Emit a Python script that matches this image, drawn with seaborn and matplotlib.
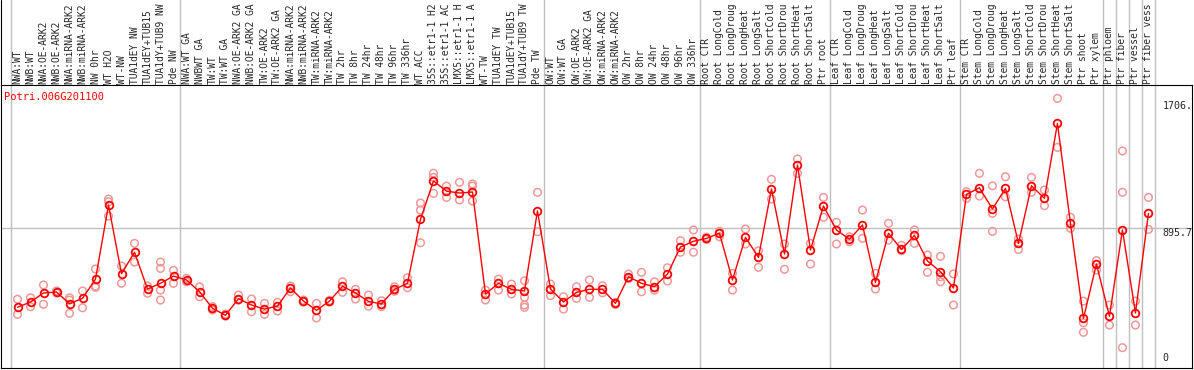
import numpy as np
import pandas as pd
import matplotlib.pyplot as plt
import seaborn as sns

gene = "Potri.006G201100"

# sample names as shown (cut to 14 characters like the original)
samples = [
    "NWA:WT", "NWB:WT", "NWA:OE-ARK2", "NWB:OE-ARK2", "NWA:miRNA-ARK2", "NWB:miRNA-ARK2",
    "NW 0hr", "WT H2O", "WT-NW", "TUA1dEY NW", "TUA1dEY+TUB15", "TUA1dY+TUB9 NW", "Pde NW",
    "NWA:WT GA", "NWBWT GA", "TW:WT", "TW:WT GA", "NWA:OE-ARK2 GA", "NWB:OE-ARK2 GA",
    "TW:OE-ARK2", "TW:OE-ARK2 GA", "NWA:miRNA-ARK2", "NWB:miRNA-ARK2", "TW:miRNA-ARK2",
    "TW:miRNA-ARK2", "TW 2hr", "TW 8hr", "TW 24hr", "TW 48hr", "TW 96hr", "TW 336hr",
    "WT ACC", "35S::etr1-1 H2", "35S::etr1-1 AC", "LMX5::etr1-1 H", "LMX5::etr1-1 A",
    "WT-TW", "TUA1dEY TW", "TUA1dEY+TUB15", "TUA1dY+TUB9 TW", "Pde TW",
    "OW:WT", "OW:WT GA", "OW:OE-ARK2", "OW:OE-ARK2 GA", "OW:miRNA-ARK2", "OW:miRNA-ARK2",
    "OW 2hr", "OW 8hr", "OW 24hr", "OW 48hr", "OW 96hr", "OW 336hr",
    "Root CTR", "Root LongCold", "Root LongDroug", "Root LongHeat", "Root LongSalt",
    "Root ShortCold", "Root ShortDrou", "Root ShortHeat", "Root ShortSalt", "Ptr root",
    "Leaf CTR", "Leaf LongCold", "Leaf LongDroug", "Leaf LongHeat", "Leaf LongSalt",
    "Leaf ShortCold", "Leaf ShortDrou", "Leaf ShortHeat", "Leaf ShortSalt", "Ptr leaf",
    "Stem CTR", "Stem LongCold", "Stem LongDroug", "Stem LongHeat", "Stem LongSalt",
    "Stem ShortCold", "Stem ShortDrou", "Stem ShortHeat", "Stem ShortSalt", "Ptr shoot",
    "Ptr xylem", "Ptr phloem", "Ptr fiber", "Ptr vessel", "Ptr fiber vess",
]

# samples per block, separated by grey lines
group_sizes = [13, 28, 12, 10, 10, 11, 1, 1, 1, 1]

mean_expr = [
    370, 405, 465, 471, 394, 429, 557, 1048, 593, 735, 491, 529, 577,
    551, 473, 363, 317, 427, 385, 358, 378, 498, 411, 350, 411, 509, 465, 409, 392,
    489, 529, 954, 1208, 1141, 1128, 1135, 458, 529, 489, 478, 1009, 491,
    405, 469, 489, 489, 396, 573, 529, 506, 591, 770, 808, 827,
    861, 551, 834, 701, 1155, 723, 1314, 750, 1042, 883,
    821, 916, 535, 861, 754, 847, 677, 606, 498, 1119,
    1163, 1022, 1159, 794, 1176, 1093, 1590, 927, 297, 657,
    310, 883, 332, 993,
]

replicates = [
    (423, 323), (433, 374), (518, 390), (478, 465), (433, 418, 330), (478, 367),
    (624, 511, 502), (1088, 1070, 975), (644, 529), (794, 670), (511, 463),
    (670, 628, 484, 418), (615, 529),
    (562, 539), (506, 440), (374, 352), (325, 312), (451, 418), (425, 340), (396, 323),
    (403, 345), (511, 473), (405, 418), (396, 299), (405, 416), (539, 469), (489, 425),
    (451, 378), (413, 374), (506, 476), (566, 500), (1062, 1015, 798), (1259, 1232, 1126),
    (1174, 1099), (1199, 1082), (1188, 1174, 1075), (484, 418), (557, 484), (524, 458),
    (546, 436, 385, 370), (1133, 871), (524, 447),
    (440, 358), (506, 429), (551, 436), (513, 466), (390, 402), (590, 560), (602, 473),
    (539, 484), (632, 544), (812, 735), (883, 735), (820, 835),
    (874, 838), (595, 484), (889, 790), (745, 635), (1219, 1088), (790, 622), (1354, 1259),
    (794, 657), (1099, 967), (934, 790),
    (838, 805), (1015, 827), (595, 491), (927, 816), (781, 745), (883, 794), (717, 602),
    (708, 573, 539), (591, 385), (1137, 1093),
    (1259, 1108), (1176, 993, 874), (1236, 1103), (823, 754), (1232, 1133), (1148, 1044),
    (1756, 1431), (967, 894), (411, 267, 204), (679, 617),
    (385, 252), (1407, 1133, 102), (411, 252), (1099, 887),
]

ref_values = [1706, 895.7, 0]
ref_labels = ["1706.", "895.7", "0"]

x = np.arange(len(samples))
df_mean = pd.DataFrame({"pos": x, "expr": mean_expr})
df_rep = pd.DataFrame(
    [(i, v) for i, reps in enumerate(replicates) for v in reps], columns=["pos", "expr"]
)

sns.set_style("white")
mono = "DejaVu Sans Mono"
grey = "#c0c0c0"

fig = plt.figure(figsize=(11.94, 3.70), dpi=100)
ax = fig.add_axes([1 / 1194, 2 / 370, 1191 / 1194, 283 / 370])
ax.set_xlim(-1.27, 90.35)
ax.set_ylim(-33, 1845)

# block separators, running up through the label strip
edges = np.concatenate([[0], np.cumsum(group_sizes)]) - 0.5
for e in edges:
    ax.axvline(e, ymin=0, ymax=1.31, color=grey, lw=1, clip_on=False, zorder=0)
ax.axhline(ref_values[1], color=grey, lw=1, zorder=0)

sns.scatterplot(data=df_rep, x="pos", y="expr", ax=ax, marker="o", s=30,
                facecolors="none", edgecolor="#f09898", color="#f09898",
                linewidth=1.1, zorder=2)
sns.lineplot(data=df_mean, x="pos", y="expr", ax=ax, color="red", lw=1,
             marker="o", markersize=5.5, markerfacecolor="none",
             markeredgecolor="red", markeredgewidth=1.3, zorder=3)

# sample names above the plot
for i, name in enumerate(samples):
    ax.text(i, 1.005, name, transform=ax.get_xaxis_transform(), rotation=90,
            ha="center", va="bottom", fontsize=6.9, family=mono, clip_on=False)

ax.text(3 / 1191, 0.958, gene, transform=ax.transAxes, color="red",
        fontsize=7.5, family=mono, ha="left", va="center")

for v, lab, va in zip(ref_values, ref_labels, ["center", "top", "bottom"]):
    ax.text(88.1, v, lab, fontsize=7.2, family=mono, ha="left", va=va)

# left border continues to the top of the image
fig.add_artist(plt.Line2D([1 / 1194, 1 / 1194], [285 / 370, 1], color="black", lw=0.8))

ax.set_xticks([])
ax.set_yticks([])
ax.set_xlabel("")
ax.set_ylabel("")
for sp in ax.spines.values():
    sp.set_color("black")
    sp.set_linewidth(0.8)

fig.savefig("out.png", dpi=100)
